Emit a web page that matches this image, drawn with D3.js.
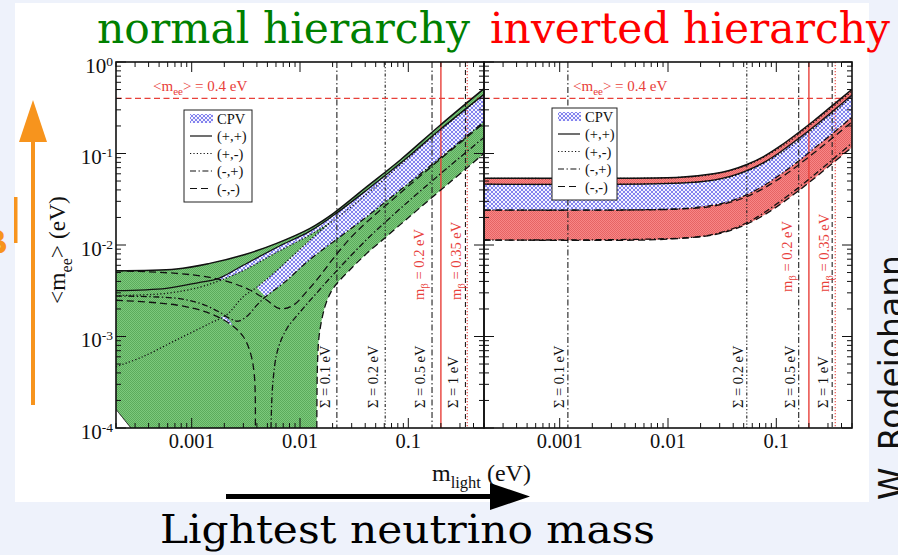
<!DOCTYPE html>
<html><head><meta charset="utf-8">
<script src="https://cdn.jsdelivr.net/npm/d3@7"></script>
<style>
html,body{margin:0;padding:0;background:#eef2fb;}
svg{display:block;}
</style></head><body>
<svg id="chart" width="898" height="555"></svg>
<script>
// ---- axis values ----
const xDomain = [2e-4, 0.5];
const yDomain = [1e-4, 1];
const xTicks = [0.001, 0.01, 0.1];
const xTickText = ["0.001", "0.01", "0.1"];
const yTicks = [1, 0.1, 0.01, 0.001, 0.0001];
const yTickExp = ["0", "-1", "-2", "-3", "-4"];
const legendLabels = ["CPV", "(+,+)", "(+,-)", "(-,+)", "(-,-)"];
const sigmaLabels = ["Σ = 0.1 eV", "Σ = 0.2 eV", "Σ = 0.5 eV", "Σ = 1 eV"];
const sigmaNormal = [0.0219, 0.0612, 0.1656, 0.337];
const sigmaInverted = [0.00119, 0.0534, 0.161, 0.328];
const mBetaLimits = [0.2, 0.35];
const meeLimit = 0.4;

// ---- normal hierarchy: allowed region [m_light, <m_ee>] ----
const nhUpperBound = [[2e-4,0.00524],[7.21e-4,0.00547],[1.468e-3,0.0063],[2.99e-3,0.00777],[6.08e-3,0.01043],[0.01238,0.01521],[0.02036,0.0222],[0.0414,0.0434],[0.0843,0.0849],[0.198,0.2049],[0.5,0.511]];
const nhLowerBound = [[0.0143,1e-4],[0.0145,5e-4],[0.015,0.001],[0.0162,0.0017],[0.0176,0.0024],[0.0204,0.0034],[0.03,0.0056],[0.0414,0.0081],[0.06,0.0118],[0.0843,0.0167],[0.12,0.0239],[0.25,0.05],[0.5,0.1]];
const nhCornerBound = [[2e-4,1.6e-4],[2.3e-4,1.3e-4],[2.75e-4,1e-4]];
// CP violating part
const nhCpvUpper = [[1.75e-3,0.00429],[2.99e-3,0.0060],[6.08e-3,0.0094],[0.01238,0.0142],[0.0204,0.0211],[0.0414,0.0399],[0.0843,0.0781],[0.198,0.184],[0.5,0.443]];
const nhCpvLower = [[4.8e-3,0.00272],[7.0e-3,0.00381],[0.01238,0.00696],[0.0204,0.01088],[0.0414,0.0204],[0.0843,0.0399],[0.198,0.090],[0.5,0.223]];
const nhCpvInnerLow = [[3.97e-3,0.00344],[6.08e-3,0.00524],[0.01238,0.01134],[0.0194,0.0178]];
const nhCpvInnerHigh = [[1.816e-3,0.00408],[2.99e-3,0.00524],[6.08e-3,0.0083],[0.01238,0.0129],[0.0194,0.0178]];
const nhCpvSpot = [[1.84e-3,1.65e-3],[2.1e-3,1.6e-3],[2.36e-3,1.34e-3],[2.15e-3,1.4e-3]];
// CP conserving curves (upper and lower edge of each sign choice)
const nhPPmax = nhUpperBound;
const nhPPmin = [[2e-4,0.00317],[5.83e-4,0.00336],[1.186e-3,0.00391],[1.75e-3,0.00429],[2.99e-3,0.0060],[6.08e-3,0.0094],[0.01238,0.0142],[0.0204,0.0211],[0.0414,0.0399],[0.0843,0.0781],[0.198,0.184],[0.5,0.443]];
const nhPMmax = [[2e-4,0.0028],[5.83e-4,0.00296],[1.186e-3,0.00346],[1.816e-3,0.00408],[2.99e-3,0.00524],[6.08e-3,0.0083],[0.01238,0.0129],[0.0194,0.0178],[0.0414,0.036],[0.0843,0.075],[0.198,0.18],[0.5,0.44]];
const nhPMmin = [[2e-4,4.68e-4],[3.54e-4,6.02e-4],[7.21e-4,9.16e-4],[1.468e-3,1.39e-3],[2.094e-3,1.72e-3],[2.99e-3,2.72e-3],[3.97e-3,3.44e-3],[6.08e-3,0.00524],[0.01238,0.01134],[0.0194,0.0178]];
const nhMPmax = [[2e-4,0.00277],[7.2e-4,0.00262],[1.2e-3,0.0023],[1.8e-3,0.00185],[2.3e-3,0.00155],[2.7e-3,0.00147],[3.3e-3,0.0017],[4.0e-3,0.0022],[4.8e-3,0.00272],[7.0e-3,0.00381],[0.01238,0.00696],[0.0204,0.01088],[0.0414,0.0204],[0.0843,0.0399],[0.198,0.090],[0.5,0.223]];
const nhMPminLeft = nhCornerBound;
const nhMPminRight = [[5.4e-3,1e-4],[5.6e-3,3e-4],[6.2e-3,7e-4],[7.5e-3,1.2e-3],[0.0102,1.9e-3],[0.0143,3.0e-3],[0.0204,4.8e-3],[0.0414,0.0115],[0.0843,0.025],[0.198,0.06],[0.5,0.15]];
const nhMMmax = [[2e-4,0.00524],[7.21e-4,0.0049],[1.468e-3,0.00443],[2.414e-3,0.00381],[3.444e-3,0.00322],[4.913e-3,0.00251],[6.53e-3,0.00201],[8.68e-3,0.0022],[0.01153,0.0031],[0.0153,0.0046],[0.0204,0.0072],[0.029,0.0118],[0.0414,0.0178],[0.0843,0.037],[0.198,0.087],[0.5,0.215]];
const nhMMminLeft = [[2e-4,0.00249],[7.2e-4,0.00221],[1.47e-3,0.00179],[2.33e-3,0.00134],[2.99e-3,0.001],[3.5e-3,6.5e-4],[3.8e-3,3.6e-4],[3.87e-3,1e-4]];
const nhMMminRight = nhLowerBound;

// ---- inverted hierarchy ----
const ihUpperBound = [[2e-4,0.0536],[3.12e-3,0.0537],[0.0129,0.055],[0.0263,0.060],[0.0375,0.0655],[0.0535,0.0757],[0.0763,0.0925],[0.109,0.121],[0.155,0.164],[0.222,0.228],[0.316,0.321],[0.5,0.503]];
const ihLowerBound = [[2e-4,0.01134],[6.35e-3,0.01134],[0.0129,0.0118],[0.0184,0.0122],[0.0263,0.0129],[0.0375,0.0144],[0.0535,0.0169],[0.0763,0.0211],[0.109,0.0279],[0.155,0.0379],[0.222,0.053],[0.316,0.0747],[0.5,0.117]];
const ihCpvUpper = [[2e-4,0.0462],[0.0129,0.0474],[0.0263,0.0513],[0.0375,0.0562],[0.0535,0.065],[0.0763,0.0795],[0.109,0.104],[0.155,0.141],[0.222,0.196],[0.316,0.276],[0.5,0.436]];
const ihCpvLower = [[2e-4,0.0241],[0.0129,0.0249],[0.0263,0.0273],[0.0375,0.0301],[0.0535,0.0355],[0.0763,0.0445],[0.109,0.059],[0.155,0.08],[0.222,0.113],[0.316,0.158],[0.5,0.25]];
const ihPPmax = ihUpperBound;
const ihPPmin = ihCpvUpper;
const ihPMmax = [[2e-4,0.0536],[0.0129,0.0548],[0.0263,0.0595],[0.0535,0.0745],[0.109,0.117],[0.222,0.22],[0.5,0.48]];
const ihPMmin = [[2e-4,0.0462],[0.0263,0.051],[0.0535,0.064],[0.109,0.1],[0.222,0.188],[0.5,0.415]];
const ihMPmax = ihCpvLower;
const ihMMmax = [[2e-4,0.0241],[0.0129,0.0247],[0.0263,0.0266],[0.0535,0.0338],[0.109,0.054],[0.222,0.101],[0.5,0.222]];
const ihMPmin = [[2e-4,0.01134],[0.0129,0.0119],[0.0263,0.0131],[0.0535,0.0175],[0.109,0.030],[0.222,0.058],[0.5,0.13]];
const ihMMmin = ihLowerBound;

// ---- drawing ----
const svg = d3.select("#chart");
const W = 898, H = 555;
const plotTop = 62, plotBottom = 428;
const serif = "'Liberation Serif','Times New Roman',serif";
const red = "#e8403a";

svg.append("rect").attr("width", W).attr("height", H).attr("fill", "#eef2fb");
svg.append("rect").attr("x", 15).attr("y", 3).attr("width", 854).attr("height", 499).attr("fill", "#ffffff");

const defs = svg.append("defs");
function checker(id, base, dot) {
  const p = defs.append("pattern").attr("id", id).attr("width", 2).attr("height", 2).attr("patternUnits", "userSpaceOnUse");
  p.append("rect").attr("width", 2).attr("height", 2).attr("fill", base);
  p.append("rect").attr("width", 1).attr("height", 1).attr("fill", dot);
  p.append("rect").attr("x", 1).attr("y", 1).attr("width", 1).attr("height", 1).attr("fill", dot);
}
checker("greenFill", "#7cc97c", "#5cab5c");
checker("redFill", "#f88686", "#e66464");
{
  const p = defs.append("pattern").attr("id", "cpvFill").attr("width", 4).attr("height", 4).attr("patternUnits", "userSpaceOnUse");
  p.append("rect").attr("width", 4).attr("height", 4).attr("fill", "#f4f4ff");
  p.append("path").attr("d", "M0,0L4,4M4,0L0,4").attr("stroke", "#4646e4").attr("stroke-width", 0.65).attr("fill", "none");
}

const yScale = d3.scaleLog().domain(yDomain).range([plotBottom, plotTop]);
const panels = [
  { x0: 116, x1: 484, id: "clipN", sigOff: 7, betaY: 300, meeX: 153 },
  { x0: 484, x1: 852, id: "clipI", sigOff: 4, betaY: 292, meeX: 573 }
];
panels.forEach(p => {
  p.x = d3.scaleLog().domain(xDomain).range([p.x0, p.x1]);
  defs.append("clipPath").attr("id", p.id).append("rect")
    .attr("x", p.x0).attr("y", plotTop).attr("width", p.x1 - p.x0).attr("height", plotBottom - plotTop);
});

function lineGen(x) {
  return d3.line().x(d => x(d[0])).y(d => yScale(d[1])).curve(d3.curveCatmullRom.alpha(0.5));
}
// joins several boundary pieces (each drawn smooth) into one closed outline
function outline(x, pieces) {
  const g = lineGen(x);
  return pieces.map((pc, i) => {
    const s = g(pc);
    return i === 0 ? s : "L" + s.slice(1);
  }).join("") + "Z";
}
const rev = a => a.slice().reverse();

const dashStyles = { solid: null, dotted: "1.2,2.2", dashdot: "6,2.5,1.4,2.5", dashed: "7,4" };

function drawCurve(g, x, data, style, width) {
  g.append("path").attr("d", lineGen(x)(data)).attr("fill", "none")
    .attr("stroke", "#111").attr("stroke-width", width || 1.3)
    .attr("stroke-dasharray", dashStyles[style]);
}

// ---------- normal hierarchy panel ----------
const pN = panels[0], xN = pN.x;
const gN = svg.append("g").attr("clip-path", "url(#clipN)");
gN.append("path").attr("fill", "url(#greenFill)").attr("d", outline(xN, [
  nhUpperBound,
  [[xDomain[1], nhUpperBound[nhUpperBound.length - 1][1]], [xDomain[1], nhLowerBound[nhLowerBound.length - 1][1]]],
  rev(nhLowerBound),
  [[nhLowerBound[0][0], yDomain[0]], [nhCornerBound[2][0], yDomain[0]]],
  rev(nhCornerBound),
  [[xDomain[0], nhCornerBound[0][1]], [xDomain[0], nhUpperBound[0][1]]]
]));
gN.append("path").attr("fill", "url(#cpvFill)").attr("d", outline(xN, [
  nhCpvUpper,
  [[xDomain[1], nhCpvUpper[nhCpvUpper.length - 1][1]], [xDomain[1], nhCpvLower[nhCpvLower.length - 1][1]]],
  rev(nhCpvLower),
  [nhCpvLower[0], nhCpvInnerLow[0]],
  nhCpvInnerLow,
  rev(nhCpvInnerHigh)
]));
gN.append("path").attr("fill", "url(#cpvFill)").attr("d", outline(xN, [nhCpvSpot]));

// ---------- inverted hierarchy panel ----------
const pI = panels[1], xI = pI.x;
const gI = svg.append("g").attr("clip-path", "url(#clipI)");
gI.append("path").attr("fill", "url(#redFill)").attr("d", outline(xI, [
  ihUpperBound,
  [[xDomain[1], ihUpperBound[ihUpperBound.length - 1][1]], [xDomain[1], ihLowerBound[ihLowerBound.length - 1][1]]],
  rev(ihLowerBound),
  [[xDomain[0], ihLowerBound[0][1]], [xDomain[0], ihUpperBound[0][1]]]
]));
gI.append("path").attr("fill", "url(#cpvFill)").attr("d", outline(xI, [
  ihCpvUpper,
  [[xDomain[1], ihCpvUpper[ihCpvUpper.length - 1][1]], [xDomain[1], ihCpvLower[ihCpvLower.length - 1][1]]],
  rev(ihCpvLower),
  [[xDomain[0], ihCpvLower[0][1]], [xDomain[0], ihCpvUpper[0][1]]]
]));

// reference lines: sum of masses, beta decay, present <m_ee> bound
const sigmaDash = ["6,2.5,1.5,2.5", "3,2,1.2,2,1.2,2", "6,2.5,1.5,2.5", "5,3"];
function refLines(g, x, sigmas) {
  sigmas.forEach((s, i) => {
    g.append("line").attr("x1", x(s)).attr("x2", x(s)).attr("y1", plotTop).attr("y2", plotBottom)
      .attr("stroke", "#222").attr("stroke-width", 1.1).attr("stroke-dasharray", sigmaDash[i]);
  });
  g.append("line").attr("x1", x(mBetaLimits[0])).attr("x2", x(mBetaLimits[0])).attr("y1", plotTop).attr("y2", plotBottom)
    .attr("stroke", red).attr("stroke-width", 1.4);
  g.append("line").attr("x1", x(mBetaLimits[1])).attr("x2", x(mBetaLimits[1])).attr("y1", plotTop).attr("y2", plotBottom)
    .attr("stroke", red).attr("stroke-width", 1.1).attr("stroke-dasharray", "1.3,1.7");
  g.append("line").attr("x1", x(xDomain[0])).attr("x2", x(xDomain[1])).attr("y1", yScale(meeLimit)).attr("y2", yScale(meeLimit))
    .attr("stroke", red).attr("stroke-width", 1.3).attr("stroke-dasharray", "6,3.5");
}
refLines(gN, xN, sigmaNormal);
refLines(gI, xI, sigmaInverted);

// CP conserving curves
drawCurve(gN, xN, nhPPmax, "solid", 1.5);
drawCurve(gN, xN, nhPPmin, "solid");
drawCurve(gN, xN, nhPMmax, "dotted");
drawCurve(gN, xN, nhPMmin, "dotted");
drawCurve(gN, xN, nhMPmax, "dashdot");
drawCurve(gN, xN, nhMPminLeft, "solid", 0.9);
drawCurve(gN, xN, nhMPminRight, "dashdot");
drawCurve(gN, xN, nhMMmax, "dashed");
drawCurve(gN, xN, nhMMminLeft, "dashed");
drawCurve(gN, xN, nhMMminRight, "dashed");

drawCurve(gI, xI, ihPPmax, "solid", 1.5);
drawCurve(gI, xI, ihPPmin, "solid");
drawCurve(gI, xI, ihPMmax, "dotted");
drawCurve(gI, xI, ihPMmin, "dotted");
drawCurve(gI, xI, ihMPmax, "dashdot");
drawCurve(gI, xI, ihMPmin, "dashdot");
drawCurve(gI, xI, ihMMmax, "dashed");
drawCurve(gI, xI, ihMMmin, "dashed");

// labels on the reference lines
function vlabel(g, xpos, ypos, parts, color) {
  const t = g.append("text").attr("transform", `translate(${xpos},${ypos}) rotate(-90)`)
    .attr("font-family", serif).attr("font-size", 14.5).attr("fill", color);
  parts.forEach(pt => {
    const ts = t.append("tspan").text(pt.t);
    if (pt.dy) ts.attr("dy", pt.dy);
    if (pt.fs) ts.attr("font-size", pt.fs);
  });
}
function panelLabels(p, sigmas) {
  const x = p.x;
  sigmas.forEach((s, i) => {
    vlabel(svg, x(s) - p.sigOff, 408, [{ t: sigmaLabels[i] }], "#111");
  });
  mBetaLimits.forEach((b, i) => {
    vlabel(svg, x(b) - (i === 0 ? 16.5 : 6), p.betaY, [
      { t: "m" }, { t: "β", dy: 4, fs: 11 }, { t: " = " + b + " eV", dy: -4 }
    ], red);
  });
  const t = svg.append("text").attr("x", p.meeX).attr("y", 91)
    .attr("font-family", serif).attr("font-size", 15).attr("fill", red);
  t.append("tspan").text("<m");
  t.append("tspan").text("ee").attr("dy", 4).attr("font-size", 11);
  t.append("tspan").text("> = " + meeLimit + " eV").attr("dy", -4);
}
panelLabels(pN, sigmaNormal);
panelLabels(pI, sigmaInverted);

// legends
function legend(lx, ly, w) {
  const g = svg.append("g");
  g.append("rect").attr("x", lx).attr("y", ly).attr("width", w).attr("height", 92)
    .attr("fill", "#fff").attr("stroke", "#222").attr("stroke-width", 1);
  const styles = [null, "solid", "dotted", "dashdot", "dashed"];
  legendLabels.forEach((lab, i) => {
    const cy = ly + 8.5 + i * 17.5;
    if (i === 0) {
      g.append("rect").attr("x", lx + 6).attr("y", cy - 4.5).attr("width", 23).attr("height", 9).attr("fill", "url(#cpvFill)");
    } else {
      g.append("line").attr("x1", lx + 6).attr("x2", lx + 28).attr("y1", cy).attr("y2", cy)
        .attr("stroke", "#111").attr("stroke-width", 1.2).attr("stroke-dasharray", dashStyles[styles[i]]);
    }
    g.append("text").attr("x", lx + 33).attr("y", cy + 5).text(lab)
      .attr("font-family", serif).attr("font-size", 14.5).attr("fill", "#111");
  });
}
legend(184, 110, 68);
legend(552, 108, 65);

// frames and ticks
function minorValues(lo, hi) {
  const out = [];
  for (let e = -5; e <= 1; e++) for (let k = 1; k <= 9; k++) {
    const v = k * Math.pow(10, e);
    if (v >= lo * 0.999 && v <= hi * 1.001) out.push(v);
  }
  return out;
}
const xMinor = minorValues(xDomain[0], xDomain[1]);
const yMinor = minorValues(yDomain[0], yDomain[1]);
const isDecade = v => Math.abs(Math.log10(v) - Math.round(Math.log10(v))) < 1e-6;

panels.forEach(p => {
  const g = svg.append("g").attr("stroke", "#111").attr("stroke-width", 1);
  xMinor.forEach(v => {
    const xx = p.x(v), L = isDecade(v) ? 10 : 5;
    g.append("line").attr("x1", xx).attr("x2", xx).attr("y1", plotBottom).attr("y2", plotBottom - L);
    g.append("line").attr("x1", xx).attr("x2", xx).attr("y1", plotTop).attr("y2", plotTop + L);
  });
  yMinor.forEach(v => {
    const yy = yScale(v), L = isDecade(v) ? 10 : 5;
    g.append("line").attr("x1", p.x0).attr("x2", p.x0 + L).attr("y1", yy).attr("y2", yy);
    g.append("line").attr("x1", p.x1).attr("x2", p.x1 - L).attr("y1", yy).attr("y2", yy);
  });
  svg.append("rect").attr("x", p.x0).attr("y", plotTop).attr("width", p.x1 - p.x0).attr("height", plotBottom - plotTop)
    .attr("fill", "none").attr("stroke", "#111").attr("stroke-width", 1.6);
  xTicks.forEach((v, i) => {
    svg.append("text").attr("x", p.x(v)).attr("y", 448).attr("text-anchor", "middle")
      .attr("font-family", serif).attr("font-size", 20.5).attr("fill", "#111").text(xTickText[i]);
  });
});
yTicks.forEach((v, i) => {
  const t = svg.append("text").attr("x", 113).attr("y", yScale(v) + 10.5).attr("text-anchor", "end")
    .attr("font-family", serif).attr("font-size", 21).attr("fill", "#111");
  t.append("tspan").text("10");
  t.append("tspan").text(yTickExp[i]).attr("dy", -7).attr("font-size", 13.5);
});

// axis titles
{
  const t = svg.append("text").attr("x", 432).attr("y", 481).attr("font-family", serif).attr("font-size", 24).attr("fill", "#111");
  t.append("tspan").text("m");
  t.append("tspan").text("light").attr("dy", 7).attr("font-size", 16.5);
  t.append("tspan").text(" (eV)").attr("dy", -7);
  const ty = svg.append("text").attr("transform", "translate(65,304) rotate(-90)").attr("font-family", serif).attr("font-size", 23.5).attr("fill", "#111");
  ty.append("tspan").text("<m");
  ty.append("tspan").text("ee").attr("dy", 7).attr("font-size", 16);
  ty.append("tspan").text("> (eV)").attr("dy", -7);
}

// headings
svg.append("text").attr("x", 97).attr("y", 43).attr("font-family", "'DejaVu Serif',serif").attr("font-size", 42)
  .attr("fill", "#008000").attr("textLength", 373).attr("lengthAdjust", "spacingAndGlyphs").text("normal hierarchy");
svg.append("text").attr("x", 490).attr("y", 43).attr("font-family", "'DejaVu Serif',serif").attr("font-size", 42)
  .attr("fill", "#ff0000").attr("textLength", 400).attr("lengthAdjust", "spacingAndGlyphs").text("inverted hierarchy");

// direction arrows and caption
svg.append("rect").attr("x", 226).attr("y", 494).attr("width", 266).attr("height", 5).attr("fill", "#000");
svg.append("path").attr("d", "M490,483L530,496.5L490,510Z").attr("fill", "#000");
svg.append("text").attr("x", 160).attr("y", 543).attr("font-family", "'DejaVu Serif',serif").attr("font-size", 40)
  .attr("fill", "#000").attr("textLength", 495).attr("lengthAdjust", "spacingAndGlyphs").text("Lightest neutrino mass");

const orange = "#f7941d";
svg.append("rect").attr("x", 31).attr("y", 138).attr("width", 4).attr("height", 267).attr("fill", orange);
svg.append("path").attr("d", "M19,142L47,142L33,100Z").attr("fill", orange);
svg.append("rect").attr("x", 14).attr("y", 197).attr("width", 3.5).attr("height", 46).attr("fill", orange);
svg.append("text").attr("x", -14).attr("y", 253).attr("font-family", "'DejaVu Sans',sans-serif").attr("font-weight", "bold")
  .attr("font-size", 30).attr("fill", orange).text("β");

svg.append("text").attr("transform", "translate(903,500) rotate(-90)").attr("font-family", "'DejaVu Sans',sans-serif")
  .attr("font-size", 33).attr("fill", "#111").text("W. Rodejohann");
</script></body></html>
